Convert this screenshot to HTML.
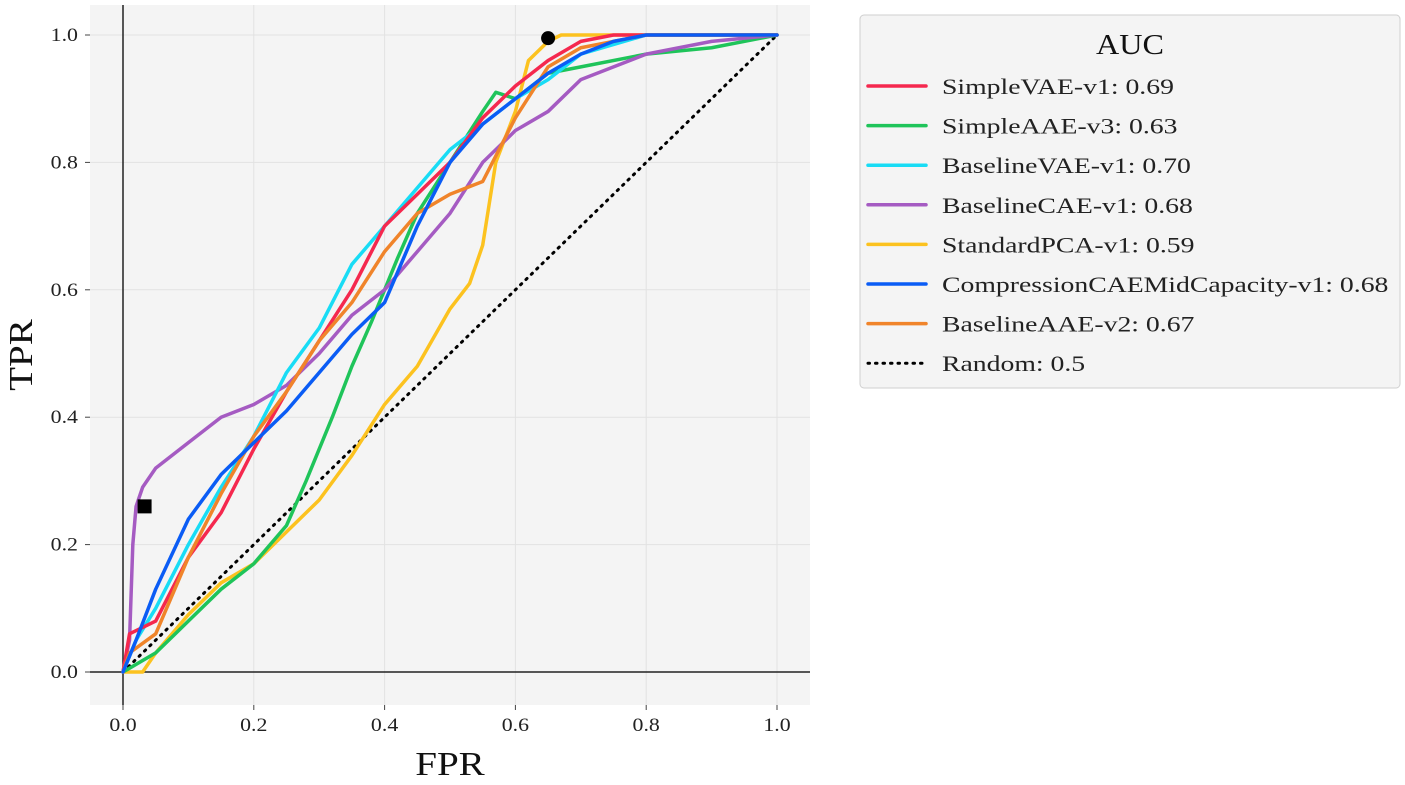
<!DOCTYPE html>
<html><head><meta charset="utf-8"><style>
body{margin:0;background:#fff;}
svg{font-family:"Liberation Serif",serif;}
</style></head><body>
<svg id="c" width="1405" height="780"></svg>
<script>
const categories=["SimpleVAE-v1: 0.69","SimpleAAE-v3: 0.63","BaselineVAE-v1: 0.70","BaselineCAE-v1: 0.68","StandardPCA-v1: 0.59","CompressionCAEMidCapacity-v1: 0.68","BaselineAAE-v2: 0.67","Random: 0.5"];
const colors=["#f5284e","#1fc45a","#18dcf5","#a55bc2","#fcc21f","#0a5cf5","#f0842a","#000"];
const xTicks=[0,0.2,0.4,0.6,0.8,1.0];
const yTicks=[0,0.2,0.4,0.6,0.8,1.0];
const sRed=[[0,0],[0.01,0.06],[0.05,0.08],[0.1,0.18],[0.15,0.25],[0.2,0.35],[0.25,0.44],[0.3,0.52],[0.35,0.6],[0.4,0.7],[0.45,0.75],[0.5,0.8],[0.55,0.87],[0.6,0.92],[0.65,0.96],[0.7,0.99],[0.75,1],[1,1]];
const sGreen=[[0,0],[0.05,0.03],[0.1,0.08],[0.15,0.13],[0.2,0.17],[0.25,0.23],[0.28,0.3],[0.32,0.4],[0.35,0.48],[0.38,0.55],[0.42,0.65],[0.45,0.72],[0.5,0.8],[0.55,0.88],[0.57,0.91],[0.6,0.9],[0.65,0.94],[0.7,0.95],[0.8,0.97],[0.9,0.98],[1,1]];
const sCyan=[[0,0],[0.02,0.05],[0.05,0.1],[0.1,0.2],[0.15,0.29],[0.2,0.37],[0.25,0.47],[0.3,0.54],[0.35,0.64],[0.4,0.7],[0.45,0.76],[0.5,0.82],[0.55,0.86],[0.6,0.9],[0.65,0.93],[0.7,0.97],[0.8,1],[1,1]];
const sPurple=[[0,0],[0.01,0.05],[0.015,0.2],[0.02,0.26],[0.03,0.29],[0.05,0.32],[0.1,0.36],[0.15,0.4],[0.2,0.42],[0.25,0.45],[0.3,0.5],[0.35,0.56],[0.4,0.6],[0.45,0.66],[0.5,0.72],[0.55,0.8],[0.6,0.85],[0.65,0.88],[0.7,0.93],[0.8,0.97],[0.9,0.99],[1,1]];
const sYellow=[[0,0],[0.03,0],[0.05,0.03],[0.1,0.09],[0.15,0.14],[0.2,0.17],[0.25,0.22],[0.3,0.27],[0.35,0.34],[0.4,0.42],[0.45,0.48],[0.5,0.57],[0.53,0.61],[0.55,0.67],[0.57,0.8],[0.6,0.88],[0.62,0.96],[0.65,0.99],[0.67,1],[1,1]];
const sBlue=[[0,0],[0.02,0.05],[0.05,0.13],[0.1,0.24],[0.15,0.31],[0.2,0.36],[0.25,0.41],[0.3,0.47],[0.35,0.53],[0.4,0.58],[0.45,0.7],[0.5,0.8],[0.55,0.86],[0.6,0.9],[0.65,0.94],[0.7,0.97],[0.75,0.99],[0.8,1],[1,1]];
const sOrange=[[0,0],[0.01,0.03],[0.05,0.06],[0.1,0.18],[0.15,0.28],[0.2,0.37],[0.25,0.44],[0.3,0.52],[0.35,0.58],[0.4,0.66],[0.45,0.72],[0.5,0.75],[0.55,0.77],[0.6,0.87],[0.65,0.95],[0.7,0.98],[0.8,1],[1,1]];
const sRandom=[[0,0],[1,1]];
const series=[sRed,sGreen,sCyan,sPurple,sYellow,sBlue,sOrange,sRandom];
const names=["simplevae","simpleaae","baselinevae","baselinecae","standardpca","compressioncae","baselineaae","random"];
const markSquare=[0.033,0.26];
const markCircle=[0.65,0.995];

const NS="http://www.w3.org/2000/svg";
const svg=document.getElementById('c');
const X=v=>123+v*654, Y=v=>672-v*637;
function mk(t,a,p){const e=document.createElementNS(NS,t);for(const k in a)e.setAttribute(k,a[k]);(p||svg).appendChild(e);return e;}
let e;
e=mk('rect',{x:90,y:5,width:720,height:700,fill:'#f4f4f4'});


xTicks.forEach(t=>{
 e=mk('line',{x1:X(t),x2:X(t),y1:5,y2:705,stroke:'#e2e2e2','stroke-width':1});
 
 
 e=mk('line',{x1:X(t),x2:X(t),y1:705,y2:710,stroke:'#444'});
 
 
 e=mk('text',{x:X(t),y:731,'text-anchor':'middle','font-size':19,fill:'#222',transform:`translate(${X(t)},0) scale(1.15,1) translate(${-X(t)},0)`});
 e.textContent=t.toFixed(1);
 
 
});
yTicks.forEach(t=>{
 e=mk('line',{x1:85,x2:90,y1:Y(t),y2:Y(t),stroke:'#444'});
 
 
 e=mk('line',{x1:90,x2:810,y1:Y(t),y2:Y(t),stroke:'#e2e2e2','stroke-width':1});
 
 
 e=mk('text',{x:78,y:Y(t)+6,'text-anchor':'end','font-size':19,fill:'#222',transform:`translate(78,0) scale(1.15,1) translate(-78,0)`});
 e.textContent=t.toFixed(1);
 
 
});
e=mk('line',{x1:X(0),x2:X(0),y1:5,y2:705,stroke:'#222','stroke-width':1.5});


e=mk('line',{x1:90,x2:810,y1:Y(0),y2:Y(0),stroke:'#222','stroke-width':1.5});


const order=[7,4,1,3,2,0,6,5];
order.forEach(i=>{
 const pts=series[i].map(p=>X(p[0])+','+Y(p[1])).join(' ');
 e=mk('polyline',{points:pts,fill:'none',stroke:colors[i],'stroke-width':i==7?3:3.5,'stroke-linejoin':'round','stroke-dasharray':i==7?'1.5 6':'none','stroke-linecap':'round'});
 
 
});
e=mk('rect',{x:X(markSquare[0])-7,y:Y(markSquare[1])-7,width:14,height:14,fill:'#000'});


e=mk('circle',{cx:X(markCircle[0]),cy:Y(markCircle[1]),r:7,fill:'#000'});


e=mk('text',{x:450,y:775,'text-anchor':'middle','font-size':34,fill:'#111',transform:'translate(450,0) scale(1.15,1) translate(-450,0)'});
e.textContent='FPR';


e=mk('text',{x:32,y:355,'text-anchor':'middle','font-size':34,fill:'#111',transform:'rotate(-90 32 355) translate(32,0) scale(1.15,1) translate(-32,0)'});
e.textContent='TPR';


const lg=mk('g',{});


e=mk('rect',{x:860,y:15,width:540,height:373,rx:4,fill:'#f4f4f4',stroke:'#cfcfcf'},lg);


e=mk('text',{x:1130,y:54,'text-anchor':'middle','font-size':28,fill:'#111',transform:'translate(1130,0) scale(1.15,1) translate(-1130,0)'},lg);
e.textContent='AUC';


categories.forEach((c,i)=>{
 const y=86+i*39.6;
 const g=mk('g',{},lg);
 
 
 e=mk('line',{x1:868,x2:926,y1:y,y2:y,stroke:colors[i],'stroke-width':i==7?3:3.5,'stroke-dasharray':i==7?'1.5 6':'none','stroke-linecap':'round'},g);
 
 
 e=mk('text',{x:942,y:y+8,'font-size':22,fill:'#222',transform:'translate(942,0) scale(1.26,1) translate(-942,0)'},g);
 e.textContent=c;
 
 
});
</script>
</body></html>
